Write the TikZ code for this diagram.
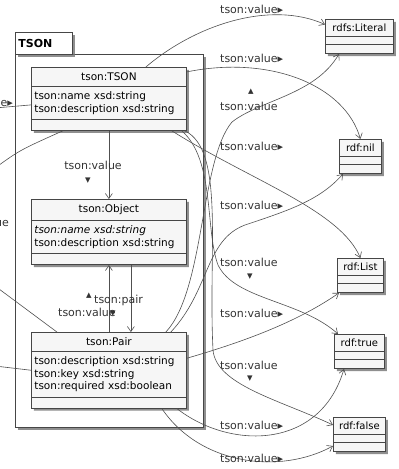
\documentclass[tikz,border=0pt]{standalone}
\usepackage{fontspec}
\setmainfont{DejaVu Sans}
\usetikzlibrary{shapes.multipart, shadows, arrows.meta}
\definecolor{boxline}{RGB}{70, 70, 70}
\definecolor{boxfill}{RGB}{246, 246, 246}
\definecolor{edgeline}{RGB}{80, 80, 80}
\newcommand{\rtri}{▸}
\newcommand{\dtri}{▾}
\newcommand{\utri}{▴}

\begin{document}
\begin{tikzpicture}[
	x=1pt, y=-1pt,
	font=\fontsize{11}{13}\selectfont,
	% Styles
	classbox/.style={draw=boxline, fill=boxfill, line width=0.8pt, anchor=north west,
		rectangle split, rectangle split parts=3, text width=149pt, inner xsep=3pt, inner ysep=5pt,
		font=\fontsize{10.5}{12.5}\selectfont,
		drop shadow={shadow xshift=2.5pt, shadow yshift=-2.5pt, fill=black!55, opacity=0.8}},
	smallbox/.style={draw=boxline, fill=boxfill, line width=0.8pt, anchor=north west,
		rectangle split, rectangle split parts=3, text width=#1, inner xsep=2pt, inner ysep=4pt,
		font=\fontsize{10}{12}\selectfont,
		drop shadow={shadow xshift=2.5pt, shadow yshift=-2.5pt, fill=black!55, opacity=0.8}},
	pkgbox/.style={draw=boxline, fill=white, line width=0.8pt, anchor=north west,
		drop shadow={shadow xshift=2.5pt, shadow yshift=-2.5pt, fill=black!55, opacity=0.8}},
	link/.style={draw=edgeline, line width=0.6pt},
	linkto/.style={link, -{Straight Barb[length=5pt, width=7pt]}},
	rolelabel/.style={text=black!80, inner sep=1pt}
	]
	
	\useasboundingbox (0,0) rectangle (399,469);
	\clip (0,0) rectangle (399,469);
	
	% ==========================================
	% Package TSON
	% ==========================================
	\node[pkgbox, minimum width=188pt, minimum height=373pt] (pkgTSON) at (15,54) {};
	\node[pkgbox, minimum width=57pt, minimum height=22pt, inner xsep=3pt, text width=51pt] (pkgTab) at (15,32) {\textbf{TSON}};
	
	% ==========================================
	% Classes
	% ==========================================
	\node[classbox] (tsonTSON) at (31,67) {\centering tson:TSON\par
		\nodepart{two} tson:name xsd:string\\ tson:description xsd:string
		\nodepart{three}};
	\node[classbox] (tsonObject) at (31,199) {\centering tson:Object\par
		\nodepart{two} \textit{tson:name xsd:string}\\ tson:description xsd:string
		\nodepart{three}};
	\node[classbox] (tsonPair) at (31,332) {\centering tson:Pair\par
		\nodepart{two} tson:description xsd:string\\ tson:key xsd:string\\ tson:required xsd:boolean
		\nodepart{three}};
	
	\node[smallbox=64pt] (rdfsLiteral) at (325,19) {\centering rdfs:Literal\par \nodepart{two} \nodepart{three}};
	\node[smallbox=38pt] (rdfNil) at (339,139) {\centering rdf:nil\par \nodepart{two} \nodepart{three}};
	\node[smallbox=42pt] (rdfList) at (337,258) {\centering rdf:List\par \nodepart{two} \nodepart{three}};
	\node[smallbox=46pt] (rdfTrue) at (334,334) {\centering rdf:true\par \nodepart{two} \nodepart{three}};
	\node[smallbox=48pt] (rdfFalse) at (333,417) {\centering rdf:false\par \nodepart{two} \nodepart{three}};
	
	% free ends of the links that leave the picture
	\coordinate (outA) at (-5,108);
	\coordinate (outB) at (-5,168);
	\coordinate (outC) at (-5,286);
	\coordinate (outD) at (-5,366);
	
	% ==========================================
	% Links
	% ==========================================
	% TSON
	\draw[linkto] (tsonTSON.south) -- (tsonObject.north);
	\draw[linkto] ([xshift=37pt]tsonTSON.north) .. controls (195,25) and (270,0) .. ([yshift=12pt]rdfsLiteral.west);
	\draw[linkto] ([yshift=27pt]tsonTSON.east) .. controls (270,55) and (345,85) .. (rdfNil.north);
	\draw[linkto] ([xshift=-15pt]tsonTSON.south east) .. controls (250,180) and (340,210) .. (rdfList.north);
	\draw[linkto] ([xshift=-5pt]tsonTSON.south east) .. controls (215,160) and (205,230) .. (218,265)
		.. controls (235,300) and (300,300) .. ([xshift=4pt]rdfTrue.north west);
	\draw[linkto] ([xshift=-2pt]tsonTSON.south east) .. controls (225,150) and (208,250) .. (213,350)
		.. controls (216,385) and (280,400) .. ([yshift=-8pt]rdfFalse.north west);
	
	% Object and Pair
	\draw[linkto] (tsonPair.north) -- (tsonObject.south);
	\draw[linkto] ([xshift=22pt]tsonObject.south) -- ([xshift=22pt]tsonPair.north);
	\draw[linkto] ([xshift=57pt]tsonPair.north) .. controls (205,290) and (200,160) .. (232,122)
		.. controls (260,100) and (315,95) .. ([xshift=14pt]rdfsLiteral.south west);
	\draw[linkto] ([xshift=62pt]tsonPair.north) .. controls (210,290) and (205,240) .. (245,225)
		.. controls (290,210) and (320,200) .. ([xshift=4pt]rdfNil.south west);
	\draw[linkto] ([yshift=12pt]tsonPair.east) .. controls (250,340) and (300,320) .. ([xshift=2pt]rdfList.south west);
	\draw[linkto] ([xshift=-10pt]tsonPair.south east) .. controls (230,450) and (320,450) .. ([xshift=10pt]rdfTrue.south west);
	\draw[linkto] ([xshift=-25pt]tsonPair.south east) .. controls (200,465) and (280,475) .. ([yshift=6pt]rdfFalse.south west);
	
	% links from outside
	\draw[link] (outA) -- ([yshift=-6pt]tsonTSON.west);
	\draw[link] (outB) .. controls (20,150) .. ([xshift=-46pt]tsonTSON.south);
	\draw[link] (outC) -- ([xshift=-52pt]tsonPair.north);
	\draw[link] (outD) -- (tsonPair.west);
	
	% ==========================================
	% Labels
	% ==========================================
	\node[rolelabel, anchor=west] (lblA) at (219,9) {tson:value\rtri};
	\node[rolelabel, anchor=west] (lblB) at (219,58) {tson:value\rtri};
	\node[rolelabel] (lblCa) at (251,92) {\utri};
	\node[rolelabel, anchor=west] (lblC) at (219,106) {tson:value};
	\node[rolelabel, anchor=west] (lblD) at (219,146) {tson:value\rtri};
	\node[rolelabel, anchor=west] (lblE) at (219,205) {tson:value\rtri};
	\node[rolelabel, anchor=west] (lblF) at (219,262) {tson:value};
	\node[rolelabel] (lblFa) at (250,277) {\dtri};
	\node[rolelabel, anchor=west] (lblG) at (219,313) {tson:value\rtri};
	\node[rolelabel, anchor=west] (lblH) at (219,365) {tson:value};
	\node[rolelabel] (lblHa) at (250,379) {\dtri};
	\node[rolelabel, anchor=west] (lblI) at (219,425) {tson:value\rtri};
	\node[rolelabel, anchor=west] (lblJ) at (219,458) {tson:value\rtri};
	
	\node[rolelabel] (lblK) at (93,165) {tson:value};
	\node[rolelabel] (lblKa) at (88,181) {\dtri};
	\node[rolelabel] (lblLa) at (89,296) {\utri};
	\node[rolelabel, anchor=west] (lblL) at (93,300) {tson:pair};
	\node[rolelabel, anchor=west] (lblM) at (57,312) {tson:value};
	\node[rolelabel] (lblMa) at (113,314) {\dtri};
	
	\node[rolelabel, anchor=east] (lblN) at (14,102) {tson:value\rtri};
	\node[rolelabel, anchor=east] (lblO) at (10,222) {tson:value};
	
\end{tikzpicture}
\end{document}
